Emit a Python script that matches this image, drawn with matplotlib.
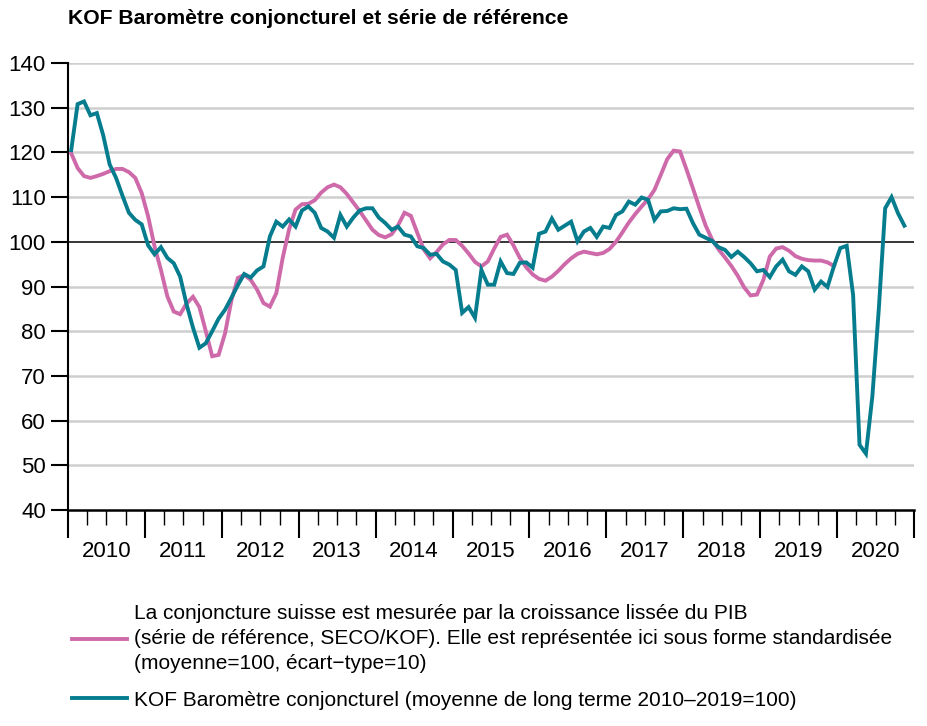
import numpy as np
import matplotlib
matplotlib.use("Agg")
import matplotlib.pyplot as plt
import matplotlib.transforms as mtransforms

plt.rcParams['font.family'] = ['Liberation Sans', 'DejaVu Sans']

# monthly values, Jan 2010 onwards
kof = [120.5, 130.8, 131.4, 128.3, 128.8, 123.8, 117.3, 114.3, 110.3, 106.5, 104.9, 103.9,   # 2010
       99.2, 97.2, 98.8, 96.4, 95.2, 92.2, 86.0, 80.8, 76.3, 77.3, 80.0, 82.8,             # 2011
       84.8, 87.5, 90.3, 92.8, 92.0, 93.6, 94.5, 101.2, 104.5, 103.4, 105.0, 103.4,        # 2012
       107.0, 107.9, 106.5, 103.1, 102.3, 100.9, 106.0, 103.4, 105.4, 107.0, 107.5, 107.5, # 2013
       105.4, 104.2, 102.7, 103.4, 101.6, 101.2, 99.0, 98.6, 97.1, 97.3, 95.6, 94.9,       # 2014
       93.7, 84.1, 85.4, 83.0, 93.7, 90.4, 90.4, 95.6, 93.0, 92.8, 95.3, 95.4,             # 2015
       94.2, 101.8, 102.3, 105.2, 102.7, 103.6, 104.5, 100.1, 102.3, 103.1, 101.1, 103.4,  # 2016
       103.1, 106.0, 106.8, 109.0, 108.3, 109.9, 109.4, 104.9, 106.8, 106.9, 107.5, 107.3, # 2017
       107.4, 104.2, 101.6, 100.9, 100.2, 98.8, 98.2, 96.6, 97.8, 96.6, 95.2, 93.4,        # 2018
       93.7, 92.1, 94.5, 96.0, 93.4, 92.6, 94.5, 93.4, 89.3, 91.1, 89.9, 94.5,             # 2019
       98.6, 99.1, 88.1, 54.6, 52.6, 65.4, 84.8, 107.5, 110.0, 106.4, 103.6]               # 2020

ref = [119.8, 116.5, 114.7, 114.3, 114.7, 115.2, 115.8, 116.3, 116.3, 115.6, 114.3, 110.9,   # 2010
       105.7, 99.0, 93.7, 87.8, 84.4, 83.8, 86.2, 87.7, 85.4, 80.0, 74.4, 74.7,            # 2011
       79.5, 86.9, 91.9, 92.6, 91.5, 89.3, 86.3, 85.5, 88.5, 96.4, 102.8, 107.2,           # 2012
       108.4, 108.5, 109.3, 111.0, 112.2, 112.8, 112.2, 110.7, 108.8, 106.9, 104.8, 102.7, # 2013
       101.5, 101.0, 101.7, 103.7, 106.5, 105.8, 102.0, 98.3, 96.3, 97.7, 99.4, 100.4,     # 2014
       100.4, 99.1, 97.4, 95.5, 94.5, 95.6, 98.5, 101.1, 101.6, 99.2, 96.4, 94.3,          # 2015
       92.7, 91.7, 91.3, 92.2, 93.5, 95.0, 96.3, 97.3, 97.8, 97.5, 97.2, 97.5,             # 2016
       98.4, 100.0, 102.1, 104.3, 106.2, 107.9, 109.5, 111.6, 115.0, 118.5, 120.4, 120.2,  # 2017
       116.2, 112.0, 107.7, 103.6, 100.5, 98.3, 96.5, 94.6, 92.4, 89.8, 88.0, 88.2,        # 2018
       91.5, 96.7, 98.5, 98.8, 98.0, 96.8, 96.2, 95.9, 95.8, 95.8, 95.4, 94.6]             # 2019

years = list(range(2010, 2021))
yticks = [40, 50, 60, 70, 80, 90, 100, 110, 120, 130, 140]

ref_label = ("La conjoncture suisse est mesurée par la croissance lissée du PIB\n"
             "(série de référence, SECO/KOF). Elle est représentée ici sous forme standardisée\n"
             "(moyenne=100, écart\u2212type=10)")
kof_label = "KOF Baromètre conjoncturel (moyenne de long terme 2010\u20132019=100)"
title = "KOF Baromètre conjoncturel et série de référence"

pink = "#cf6aaa"
teal = "#067d8e"

fig = plt.figure(figsize=(9.28, 7.26), dpi=100)
ax = fig.add_axes([68/928, 1-510/726, (914-68)/928, (510-63)/726])

x_kof = 2010 + (np.arange(len(kof)) + 0.5) / 12
x_ref = 2010 + (np.arange(len(ref)) + 0.5) / 12

for y in yticks[1:]:
    if y != 100:
        ax.axhline(y, color="#cfcfcf", lw=1.8, zorder=0)
ax.axhline(100, color="black", lw=1.1, zorder=1)

l1, = ax.plot(x_ref, ref, color=pink, lw=2.8, solid_joinstyle="miter", zorder=3)
l2, = ax.plot(x_kof, kof, color=teal, lw=2.8, solid_joinstyle="miter", zorder=4)

ax.set_xlim(2010, 2021)
ax.set_ylim(40, 140)
ax.set_yticks(yticks)
ax.tick_params(axis="y", labelsize=16, length=12, width=1.5, pad=4, direction="out")

ax.set_xticks(years + [2021])
ax.set_xticklabels([])
ax.set_xticks(np.arange(2010, 2021, 0.25), minor=True)
ax.tick_params(axis="x", which="major", length=20, width=1.5, direction="out")
ax.tick_params(axis="x", which="minor", length=11, width=1.0, direction="out")

trans = mtransforms.blended_transform_factory(ax.transData, ax.transAxes)
for yr in years:
    ax.text(yr + 0.5, -0.093, str(yr), transform=trans, ha="center", va="center", fontsize=16)

for s in ["top", "right"]:
    ax.spines[s].set_visible(False)
ax.spines["left"].set_linewidth(1.5)
ax.spines["bottom"].set_linewidth(1.8)

fig.text(68/928, 1-18/726, title, fontsize=15.2, fontweight="bold", va="center", ha="left")

leg = fig.legend([l1, l2], [ref_label, kof_label], loc="upper left",
                 bbox_to_anchor=(62/928, 1-594/726), frameon=False, fontsize=15,
                 handlelength=2.6, handletextpad=0.35, labelspacing=0.85, borderpad=0)
for t in leg.get_texts():
    t.set_linespacing(1.38)

fig.savefig("out.png", dpi=100)
